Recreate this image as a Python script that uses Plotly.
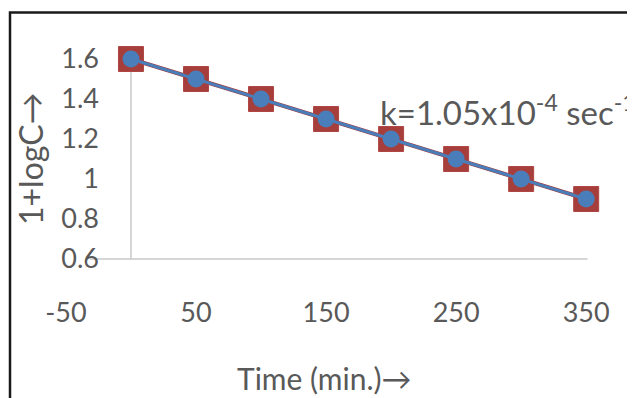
import plotly.graph_objects as go

time_min = [0, 50, 100, 150, 200, 250, 300, 350]
log_c_obs = [1.6, 1.5, 1.4, 1.3, 1.2, 1.1, 1.0, 0.9]
log_c_fit = [1.6, 1.5, 1.4, 1.3, 1.2, 1.1, 1.0, 0.9]
x_ticks = [-50, 50, 150, 250, 350]
x_tick_text = ["-50", "50", "150", "250", "350"]
y_ticks = [0.6, 0.8, 1.0, 1.2, 1.4, 1.6]
y_tick_text = ["0.6", "0.8", "1", "1.2", "1.4", "1.6"]

W, H = 635, 398
L, R, T, B = 40, 10, 20, 112
pw, ph = W - L - R, H - T - B

def px(xp):
    return (xp - L) / pw

def py(yp):
    return (H - B - yp) / ph

grey = "#595959"
font = "Lato"

fig = go.Figure()
fig.add_trace(go.Scatter(
    x=time_min, y=log_c_obs, mode="lines+markers",
    line=dict(color="#A33B38", width=4),
    marker=dict(symbol="square", size=25, color="#A63E3B",
                line=dict(color="#B04643", width=1)),
    showlegend=False))
fig.add_trace(go.Scatter(
    x=time_min, y=log_c_fit, mode="lines+markers",
    line=dict(color="#4A7EBB", width=3),
    marker=dict(symbol="circle", size=17, color="#4A7EBB"),
    showlegend=False))

# axis lines (Excel style)
fig.add_shape(type="line", xref="x", yref="y", x0=-31.5, x1=351, y0=0.6, y1=0.6,
              line=dict(color="#C8C8C8", width=1.5), layer="below")
fig.add_shape(type="line", xref="x", yref="y", x0=0, x1=0, y0=0.6, y1=1.6,
              line=dict(color="#C8C8C8", width=1.5), layer="below")
# outer frame
fig.add_shape(type="rect", xref="paper", yref="paper",
              x0=px(2), x1=px(660), y0=py(420), y1=py(4.5),
              line=dict(color="#1a1a1a", width=2.5))

fig.add_annotation(xref="x", yref="y", x=190, y=1.347, xanchor="left", yanchor="middle",
                   text="k=1.05x10<sup>-4</sup> sec<sup>-1</sup>", showarrow=False,
                   font=dict(family=font, size=33, color=grey))
fig.add_annotation(xref="paper", yref="paper", x=px(316), y=py(370),
                   xanchor="center", yanchor="middle",
                   text="Time (min.)→", showarrow=False,
                   font=dict(family=font, size=30, color=grey))
fig.add_annotation(xref="paper", yref="paper", x=px(23), y=py(151), textangle=-90,
                   xanchor="center", yanchor="middle",
                   text="1+logC→", showarrow=False,
                   font=dict(family=font, size=32, color=grey))

fig.update_layout(
    width=W, height=H,
    margin=dict(l=L, r=R, t=T, b=B, pad=0),
    paper_bgcolor="white", plot_bgcolor="white",
    xaxis=dict(range=[-63.8, 386], tickvals=x_ticks, ticktext=x_tick_text,
               showgrid=False, zeroline=False,
               showline=False, ticks="", tickfont=dict(family=font, size=27, color=grey)),
    yaxis=dict(range=[0.425, 1.755], tickvals=y_ticks, ticktext=y_tick_text,
               showgrid=False, zeroline=False, showline=False, ticks="",
               anchor="free", position=px(91),
               tickfont=dict(family=font, size=27, color=grey)),
)

fig.write_html("out.html")
